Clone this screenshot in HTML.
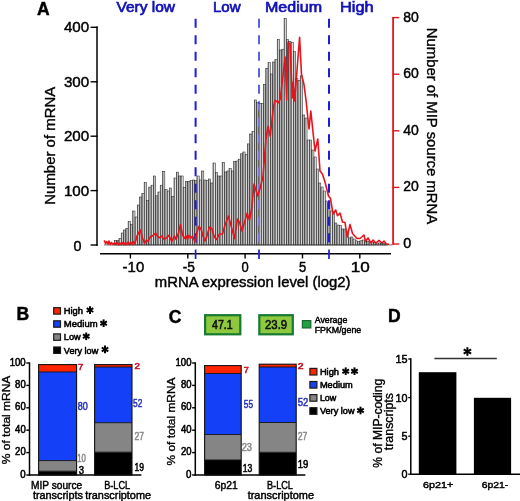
<!DOCTYPE html>
<html><head><meta charset="utf-8"><style>
html,body{margin:0;padding:0;background:#fff;width:520px;height:501px;overflow:hidden}
svg{display:block;will-change:transform}
text{font-family:"Liberation Sans", sans-serif}
</style></head><body>
<svg width="520" height="501" viewBox="0 0 520 501">
<rect x="0" y="0" width="520" height="501" fill="#fff"/>
<text x="37" y="15" font-size="17.5" fill="#000" stroke="#000" stroke-width="0.45" text-anchor="start" font-weight="bold" >A</text>
<text x="116.5" y="12.1" font-size="15" fill="#1212b8" stroke="#1212b8" stroke-width="0.7" text-anchor="start" font-weight="normal" textLength="58.5" lengthAdjust="spacingAndGlyphs" >Very low</text>
<text x="213" y="12.1" font-size="15" fill="#1212b8" stroke="#1212b8" stroke-width="0.7" text-anchor="start" font-weight="normal" textLength="27.6" lengthAdjust="spacingAndGlyphs" >Low</text>
<text x="265" y="12.1" font-size="15" fill="#1212b8" stroke="#1212b8" stroke-width="0.7" text-anchor="start" font-weight="normal" textLength="57" lengthAdjust="spacingAndGlyphs" >Medium</text>
<text x="340" y="12.1" font-size="15" fill="#1212b8" stroke="#1212b8" stroke-width="0.7" text-anchor="start" font-weight="normal" textLength="33.6" lengthAdjust="spacingAndGlyphs" >High</text>
<defs><clipPath id="cTop"><rect x="0" y="0" width="520" height="104"/></clipPath><clipPath id="cBot"><rect x="0" y="104" width="520" height="200"/></clipPath><linearGradient id="bg" x1="0" y1="0" x2="1" y2="0"><stop offset="0" stop-color="#6a6a6a"/><stop offset="0.35" stop-color="#a4a4a4"/><stop offset="0.72" stop-color="#ececec"/><stop offset="1" stop-color="#c4c4c4"/></linearGradient></defs>
<g>
<rect x="114.34" y="240.50" width="2.29" height="4.50" fill="url(#bg)" stroke="#2a2a2a" stroke-width="0.55" />
<rect x="116.64" y="240.50" width="2.29" height="4.50" fill="url(#bg)" stroke="#2a2a2a" stroke-width="0.55" />
<rect x="118.93" y="238.40" width="2.29" height="6.60" fill="url(#bg)" stroke="#2a2a2a" stroke-width="0.55" />
<rect x="121.22" y="233.00" width="2.29" height="12.00" fill="url(#bg)" stroke="#2a2a2a" stroke-width="0.55" />
<rect x="123.52" y="230.00" width="2.29" height="15.00" fill="url(#bg)" stroke="#2a2a2a" stroke-width="0.55" />
<rect x="125.81" y="228.30" width="2.29" height="16.70" fill="url(#bg)" stroke="#2a2a2a" stroke-width="0.55" />
<rect x="128.11" y="221.50" width="2.29" height="23.50" fill="url(#bg)" stroke="#2a2a2a" stroke-width="0.55" />
<rect x="130.40" y="224.50" width="2.29" height="20.50" fill="url(#bg)" stroke="#2a2a2a" stroke-width="0.55" />
<rect x="132.69" y="211.00" width="2.29" height="34.00" fill="url(#bg)" stroke="#2a2a2a" stroke-width="0.55" />
<rect x="134.99" y="217.00" width="2.29" height="28.00" fill="url(#bg)" stroke="#2a2a2a" stroke-width="0.55" />
<rect x="137.28" y="205.00" width="2.29" height="40.00" fill="url(#bg)" stroke="#2a2a2a" stroke-width="0.55" />
<rect x="139.58" y="197.00" width="2.29" height="48.00" fill="url(#bg)" stroke="#2a2a2a" stroke-width="0.55" />
<rect x="141.87" y="193.40" width="2.29" height="51.60" fill="url(#bg)" stroke="#2a2a2a" stroke-width="0.55" />
<rect x="144.16" y="182.30" width="2.29" height="62.70" fill="url(#bg)" stroke="#2a2a2a" stroke-width="0.55" />
<rect x="146.46" y="200.60" width="2.29" height="44.40" fill="url(#bg)" stroke="#2a2a2a" stroke-width="0.55" />
<rect x="148.75" y="187.10" width="2.29" height="57.90" fill="url(#bg)" stroke="#2a2a2a" stroke-width="0.55" />
<rect x="151.05" y="185.20" width="2.29" height="59.80" fill="url(#bg)" stroke="#2a2a2a" stroke-width="0.55" />
<rect x="153.34" y="176.00" width="2.29" height="69.00" fill="url(#bg)" stroke="#2a2a2a" stroke-width="0.55" />
<rect x="155.63" y="195.80" width="2.29" height="49.20" fill="url(#bg)" stroke="#2a2a2a" stroke-width="0.55" />
<rect x="157.93" y="192.00" width="2.29" height="53.00" fill="url(#bg)" stroke="#2a2a2a" stroke-width="0.55" />
<rect x="160.22" y="185.20" width="2.29" height="59.80" fill="url(#bg)" stroke="#2a2a2a" stroke-width="0.55" />
<rect x="162.52" y="171.30" width="2.29" height="73.70" fill="url(#bg)" stroke="#2a2a2a" stroke-width="0.55" />
<rect x="164.81" y="189.50" width="2.29" height="55.50" fill="url(#bg)" stroke="#2a2a2a" stroke-width="0.55" />
<rect x="167.10" y="191.00" width="2.29" height="54.00" fill="url(#bg)" stroke="#2a2a2a" stroke-width="0.55" />
<rect x="169.40" y="188.00" width="2.29" height="57.00" fill="url(#bg)" stroke="#2a2a2a" stroke-width="0.55" />
<rect x="171.69" y="196.30" width="2.29" height="48.70" fill="url(#bg)" stroke="#2a2a2a" stroke-width="0.55" />
<rect x="173.99" y="178.00" width="2.29" height="67.00" fill="url(#bg)" stroke="#2a2a2a" stroke-width="0.55" />
<rect x="176.28" y="172.20" width="2.29" height="72.80" fill="url(#bg)" stroke="#2a2a2a" stroke-width="0.55" />
<rect x="178.57" y="176.00" width="2.29" height="69.00" fill="url(#bg)" stroke="#2a2a2a" stroke-width="0.55" />
<rect x="180.87" y="176.00" width="2.29" height="69.00" fill="url(#bg)" stroke="#2a2a2a" stroke-width="0.55" />
<rect x="183.16" y="187.60" width="2.29" height="57.40" fill="url(#bg)" stroke="#2a2a2a" stroke-width="0.55" />
<rect x="185.46" y="181.50" width="2.29" height="63.50" fill="url(#bg)" stroke="#2a2a2a" stroke-width="0.55" />
<rect x="187.75" y="181.50" width="2.29" height="63.50" fill="url(#bg)" stroke="#2a2a2a" stroke-width="0.55" />
<rect x="190.04" y="180.70" width="2.29" height="64.30" fill="url(#bg)" stroke="#2a2a2a" stroke-width="0.55" />
<rect x="192.34" y="180.00" width="2.29" height="65.00" fill="url(#bg)" stroke="#2a2a2a" stroke-width="0.55" />
<rect x="194.63" y="180.70" width="2.29" height="64.30" fill="url(#bg)" stroke="#2a2a2a" stroke-width="0.55" />
<rect x="196.93" y="176.00" width="2.29" height="69.00" fill="url(#bg)" stroke="#2a2a2a" stroke-width="0.55" />
<rect x="199.22" y="180.00" width="2.29" height="65.00" fill="url(#bg)" stroke="#2a2a2a" stroke-width="0.55" />
<rect x="201.51" y="171.00" width="2.29" height="74.00" fill="url(#bg)" stroke="#2a2a2a" stroke-width="0.55" />
<rect x="203.81" y="180.00" width="2.29" height="65.00" fill="url(#bg)" stroke="#2a2a2a" stroke-width="0.55" />
<rect x="206.10" y="180.70" width="2.29" height="64.30" fill="url(#bg)" stroke="#2a2a2a" stroke-width="0.55" />
<rect x="208.40" y="179.00" width="2.29" height="66.00" fill="url(#bg)" stroke="#2a2a2a" stroke-width="0.55" />
<rect x="210.69" y="183.00" width="2.29" height="62.00" fill="url(#bg)" stroke="#2a2a2a" stroke-width="0.55" />
<rect x="212.98" y="163.00" width="2.29" height="82.00" fill="url(#bg)" stroke="#2a2a2a" stroke-width="0.55" />
<rect x="215.28" y="172.70" width="2.29" height="72.30" fill="url(#bg)" stroke="#2a2a2a" stroke-width="0.55" />
<rect x="217.57" y="176.00" width="2.29" height="69.00" fill="url(#bg)" stroke="#2a2a2a" stroke-width="0.55" />
<rect x="219.87" y="176.00" width="2.29" height="69.00" fill="url(#bg)" stroke="#2a2a2a" stroke-width="0.55" />
<rect x="222.16" y="162.30" width="2.29" height="82.70" fill="url(#bg)" stroke="#2a2a2a" stroke-width="0.55" />
<rect x="224.45" y="172.00" width="2.29" height="73.00" fill="url(#bg)" stroke="#2a2a2a" stroke-width="0.55" />
<rect x="226.75" y="171.00" width="2.29" height="74.00" fill="url(#bg)" stroke="#2a2a2a" stroke-width="0.55" />
<rect x="229.04" y="168.70" width="2.29" height="76.30" fill="url(#bg)" stroke="#2a2a2a" stroke-width="0.55" />
<rect x="231.34" y="171.00" width="2.29" height="74.00" fill="url(#bg)" stroke="#2a2a2a" stroke-width="0.55" />
<rect x="233.63" y="161.50" width="2.29" height="83.50" fill="url(#bg)" stroke="#2a2a2a" stroke-width="0.55" />
<rect x="235.92" y="161.00" width="2.29" height="84.00" fill="url(#bg)" stroke="#2a2a2a" stroke-width="0.55" />
<rect x="238.22" y="159.20" width="2.29" height="85.80" fill="url(#bg)" stroke="#2a2a2a" stroke-width="0.55" />
<rect x="240.51" y="153.80" width="2.29" height="91.20" fill="url(#bg)" stroke="#2a2a2a" stroke-width="0.55" />
<rect x="242.81" y="152.00" width="2.29" height="93.00" fill="url(#bg)" stroke="#2a2a2a" stroke-width="0.55" />
<rect x="245.10" y="154.70" width="2.29" height="90.30" fill="url(#bg)" stroke="#2a2a2a" stroke-width="0.55" />
<rect x="247.39" y="143.90" width="2.29" height="101.10" fill="url(#bg)" stroke="#2a2a2a" stroke-width="0.55" />
<rect x="249.69" y="134.00" width="2.29" height="111.00" fill="url(#bg)" stroke="#2a2a2a" stroke-width="0.55" />
<rect x="251.98" y="131.30" width="2.29" height="113.70" fill="url(#bg)" stroke="#2a2a2a" stroke-width="0.55" />
<rect x="254.28" y="100.00" width="2.29" height="145.00" fill="url(#bg)" stroke="#2a2a2a" stroke-width="0.55" />
<rect x="256.57" y="102.70" width="2.29" height="142.30" fill="url(#bg)" stroke="#2a2a2a" stroke-width="0.55" />
<rect x="258.86" y="103.50" width="2.29" height="141.50" fill="url(#bg)" stroke="#2a2a2a" stroke-width="0.55" />
<rect x="261.16" y="103.50" width="2.29" height="141.50" fill="url(#bg)" stroke="#2a2a2a" stroke-width="0.55" />
<rect x="263.45" y="84.30" width="2.29" height="160.70" fill="url(#bg)" stroke="#2a2a2a" stroke-width="0.55" />
<rect x="265.75" y="68.30" width="2.29" height="176.70" fill="url(#bg)" stroke="#2a2a2a" stroke-width="0.55" />
<rect x="268.04" y="62.70" width="2.29" height="182.30" fill="url(#bg)" stroke="#2a2a2a" stroke-width="0.55" />
<rect x="270.33" y="74.00" width="2.29" height="171.00" fill="url(#bg)" stroke="#2a2a2a" stroke-width="0.55" />
<rect x="272.63" y="62.00" width="2.29" height="183.00" fill="url(#bg)" stroke="#2a2a2a" stroke-width="0.55" />
<rect x="274.92" y="59.60" width="2.29" height="185.40" fill="url(#bg)" stroke="#2a2a2a" stroke-width="0.55" />
<rect x="277.22" y="39.30" width="2.29" height="205.70" fill="url(#bg)" stroke="#2a2a2a" stroke-width="0.55" />
<rect x="279.51" y="50.00" width="2.29" height="195.00" fill="url(#bg)" stroke="#2a2a2a" stroke-width="0.55" />
<rect x="281.80" y="49.20" width="2.29" height="195.80" fill="url(#bg)" stroke="#2a2a2a" stroke-width="0.55" />
<rect x="284.10" y="18.40" width="2.29" height="226.60" fill="url(#bg)" stroke="#2a2a2a" stroke-width="0.55" />
<rect x="286.39" y="39.60" width="2.29" height="205.40" fill="url(#bg)" stroke="#2a2a2a" stroke-width="0.55" />
<rect x="288.69" y="41.50" width="2.29" height="203.50" fill="url(#bg)" stroke="#2a2a2a" stroke-width="0.55" />
<rect x="290.98" y="42.60" width="2.29" height="202.40" fill="url(#bg)" stroke="#2a2a2a" stroke-width="0.55" />
<rect x="293.27" y="51.60" width="2.29" height="193.40" fill="url(#bg)" stroke="#2a2a2a" stroke-width="0.55" />
<rect x="295.57" y="78.50" width="2.29" height="166.50" fill="url(#bg)" stroke="#2a2a2a" stroke-width="0.55" />
<rect x="297.86" y="80.30" width="2.29" height="164.70" fill="url(#bg)" stroke="#2a2a2a" stroke-width="0.55" />
<rect x="300.16" y="75.80" width="2.29" height="169.20" fill="url(#bg)" stroke="#2a2a2a" stroke-width="0.55" />
<rect x="302.45" y="115.00" width="2.29" height="130.00" fill="url(#bg)" stroke="#2a2a2a" stroke-width="0.55" />
<rect x="304.74" y="118.00" width="2.29" height="127.00" fill="url(#bg)" stroke="#2a2a2a" stroke-width="0.55" />
<rect x="307.04" y="140.00" width="2.29" height="105.00" fill="url(#bg)" stroke="#2a2a2a" stroke-width="0.55" />
<rect x="309.33" y="140.00" width="2.29" height="105.00" fill="url(#bg)" stroke="#2a2a2a" stroke-width="0.55" />
<rect x="311.63" y="150.00" width="2.29" height="95.00" fill="url(#bg)" stroke="#2a2a2a" stroke-width="0.55" />
<rect x="313.92" y="157.00" width="2.29" height="88.00" fill="url(#bg)" stroke="#2a2a2a" stroke-width="0.55" />
<rect x="316.21" y="169.00" width="2.29" height="76.00" fill="url(#bg)" stroke="#2a2a2a" stroke-width="0.55" />
<rect x="318.51" y="183.00" width="2.29" height="62.00" fill="url(#bg)" stroke="#2a2a2a" stroke-width="0.55" />
<rect x="320.80" y="187.00" width="2.29" height="58.00" fill="url(#bg)" stroke="#2a2a2a" stroke-width="0.55" />
<rect x="323.10" y="191.00" width="2.29" height="54.00" fill="url(#bg)" stroke="#2a2a2a" stroke-width="0.55" />
<rect x="325.39" y="201.00" width="2.29" height="44.00" fill="url(#bg)" stroke="#2a2a2a" stroke-width="0.55" />
<rect x="327.68" y="203.00" width="2.29" height="42.00" fill="url(#bg)" stroke="#2a2a2a" stroke-width="0.55" />
<rect x="329.98" y="211.00" width="2.29" height="34.00" fill="url(#bg)" stroke="#2a2a2a" stroke-width="0.55" />
<rect x="332.27" y="212.00" width="2.29" height="33.00" fill="url(#bg)" stroke="#2a2a2a" stroke-width="0.55" />
<rect x="334.57" y="223.00" width="2.29" height="22.00" fill="url(#bg)" stroke="#2a2a2a" stroke-width="0.55" />
<rect x="336.86" y="225.00" width="2.29" height="20.00" fill="url(#bg)" stroke="#2a2a2a" stroke-width="0.55" />
<rect x="339.15" y="225.60" width="2.29" height="19.40" fill="url(#bg)" stroke="#2a2a2a" stroke-width="0.55" />
<rect x="341.45" y="229.00" width="2.29" height="16.00" fill="url(#bg)" stroke="#2a2a2a" stroke-width="0.55" />
<rect x="343.74" y="229.00" width="2.29" height="16.00" fill="url(#bg)" stroke="#2a2a2a" stroke-width="0.55" />
<rect x="346.04" y="231.00" width="2.29" height="14.00" fill="url(#bg)" stroke="#2a2a2a" stroke-width="0.55" />
<rect x="348.33" y="238.00" width="2.29" height="7.00" fill="url(#bg)" stroke="#2a2a2a" stroke-width="0.55" />
<rect x="350.62" y="237.00" width="2.29" height="8.00" fill="url(#bg)" stroke="#2a2a2a" stroke-width="0.55" />
<rect x="352.92" y="239.00" width="2.29" height="6.00" fill="url(#bg)" stroke="#2a2a2a" stroke-width="0.55" />
<rect x="355.21" y="240.80" width="2.29" height="4.20" fill="url(#bg)" stroke="#2a2a2a" stroke-width="0.55" />
<rect x="357.51" y="241.70" width="2.29" height="3.30" fill="url(#bg)" stroke="#2a2a2a" stroke-width="0.55" />
<rect x="359.80" y="240.80" width="2.29" height="4.20" fill="url(#bg)" stroke="#2a2a2a" stroke-width="0.55" />
<rect x="362.09" y="240.00" width="2.29" height="5.00" fill="url(#bg)" stroke="#2a2a2a" stroke-width="0.55" />
<rect x="364.39" y="241.00" width="2.29" height="4.00" fill="url(#bg)" stroke="#2a2a2a" stroke-width="0.55" />
<rect x="366.68" y="241.50" width="2.29" height="3.50" fill="url(#bg)" stroke="#2a2a2a" stroke-width="0.55" />
<rect x="368.98" y="242.00" width="2.29" height="3.00" fill="url(#bg)" stroke="#2a2a2a" stroke-width="0.55" />
<rect x="371.27" y="242.00" width="2.29" height="3.00" fill="url(#bg)" stroke="#2a2a2a" stroke-width="0.55" />
<rect x="373.56" y="242.50" width="2.29" height="2.50" fill="url(#bg)" stroke="#2a2a2a" stroke-width="0.55" />
<rect x="375.86" y="243.00" width="2.29" height="2.00" fill="url(#bg)" stroke="#2a2a2a" stroke-width="0.55" />
<rect x="378.15" y="243.00" width="2.29" height="2.00" fill="url(#bg)" stroke="#2a2a2a" stroke-width="0.55" />
<rect x="380.45" y="243.50" width="2.29" height="1.50" fill="url(#bg)" stroke="#2a2a2a" stroke-width="0.55" />
<rect x="382.74" y="243.50" width="2.29" height="1.50" fill="url(#bg)" stroke="#2a2a2a" stroke-width="0.55" />
<rect x="385.03" y="244.00" width="2.29" height="1.00" fill="url(#bg)" stroke="#2a2a2a" stroke-width="0.55" />
</g>
<line x1="104" y1="244.9" x2="392.5" y2="244.9" stroke="#3a3a3a" stroke-width="0.8" />
<line x1="195.6" y1="18.8" x2="195.6" y2="245" stroke="#1c1cdc" stroke-width="2.0" stroke-dasharray="9 7.5"/>
<line x1="329.0" y1="18.8" x2="329.0" y2="245" stroke="#1c1cdc" stroke-width="2.0" stroke-dasharray="9 7.5"/>
<line x1="259.0" y1="18.8" x2="259.0" y2="245" stroke="#4646d6" stroke-width="1.7" stroke-dasharray="9 7.5" clip-path="url(#cTop)"/>
<line x1="259.0" y1="18.8" x2="259.0" y2="245" stroke="#7a7ae6" stroke-width="1.8" stroke-dasharray="9 7.5" clip-path="url(#cBot)"/>
<polyline points="104.2,240.4 105.5,243.5 106.8,241.5 108,244.3 109,241 110.3,244.5 111.5,242.5 113,244.6 114.5,242.8 116,244.5 117.3,242 118.6,244.6 120,243 121.3,244.6 122.6,242.5 124,244.6 125.3,242.8 126.7,244.5 128,242 129.4,244.5 130.8,242.3 132.2,244.5 133.5,241.5 135,243.5 137,236 140.3,230 142.5,238 144.5,243.5 146.5,240 148,241.5 150.3,237 153,235.5 155.7,233 157.5,236.5 159.5,237.7 162,236 163.5,239 165.7,238.5 168.8,235.4 171.8,241.5 174.5,236 176,239.4 178.5,233 180.5,224.5 182.5,235 184.5,238.4 186,236 187.5,239.4 189,235.4 191,238 192.5,236 195,242 197,232 199,226.4 201,229 203,236 205,241 207,236 209.4,227 212,229 214.4,237 216.6,239.5 219.5,234 222.5,234 224.7,226 228.5,216 231.5,227.4 234.5,238.6 237.5,219 239.7,223 242,231 245,220.6 247.2,213 249.4,220 251.7,208.7 254,184 257.7,196 260,188.5 263,176.5 265.9,139.5 268,126.3 270.2,136.2 273.5,106.6 275.2,100.3 278.4,102.7 280.3,99 285.1,57 286.7,100 288,42.5 290,44 292.3,98 293.3,82 294.6,101 299.6,37.2 301.5,74.5 303.9,84 306,100 309,129 310.8,111 315,151 317.8,139 320,171 322.4,174 325,182 328.5,196 330.5,198.6 333,214 335.7,210 337.5,215.7 340,213 342.5,222 345,222.5 347.2,237 350,224.5 352.5,233.5 357,238.5 360,238.5 364,235 365.5,241.5 368,238 371,243 373,240 376,243 379,240.3 382,243 384,241 386.5,244 389,244.3" fill="none" stroke="#e8141c" stroke-width="1.6" stroke-linejoin="round"/>
<line x1="97" y1="26.6" x2="97" y2="245.7" stroke="#000" stroke-width="1.5" />
<line x1="90.6" y1="27.3" x2="97.7" y2="27.3" stroke="#000" stroke-width="1.4" />
<text x="89.2" y="32.3" font-size="15" fill="#000" stroke="#000" stroke-width="0.45" text-anchor="end" font-weight="normal" textLength="25.3" lengthAdjust="spacingAndGlyphs" >400</text>
<line x1="90.6" y1="81.8" x2="97.7" y2="81.8" stroke="#000" stroke-width="1.4" />
<text x="89.2" y="86.8" font-size="15" fill="#000" stroke="#000" stroke-width="0.45" text-anchor="end" font-weight="normal" textLength="25.3" lengthAdjust="spacingAndGlyphs" >300</text>
<line x1="90.6" y1="136.2" x2="97.7" y2="136.2" stroke="#000" stroke-width="1.4" />
<text x="89.2" y="141.2" font-size="15" fill="#000" stroke="#000" stroke-width="0.45" text-anchor="end" font-weight="normal" textLength="25.3" lengthAdjust="spacingAndGlyphs" >200</text>
<line x1="90.6" y1="190.6" x2="97.7" y2="190.6" stroke="#000" stroke-width="1.4" />
<text x="89.2" y="195.6" font-size="15" fill="#000" stroke="#000" stroke-width="0.45" text-anchor="end" font-weight="normal" textLength="25.3" lengthAdjust="spacingAndGlyphs" >100</text>
<line x1="90.6" y1="245" x2="97.7" y2="245" stroke="#000" stroke-width="1.4" />
<text x="73.5" y="250.6" font-size="15" fill="#000" stroke="#000" stroke-width="0.45" text-anchor="start" font-weight="normal" textLength="8.0" lengthAdjust="spacingAndGlyphs" >0</text>
<line x1="100" y1="253.7" x2="391" y2="253.7" stroke="#000" stroke-width="1.6" />
<line x1="130.4" y1="253" x2="130.4" y2="258.5" stroke="#000" stroke-width="1.4" />
<text x="133.4" y="272.0" font-size="15" fill="#000" stroke="#000" stroke-width="0.45" text-anchor="middle" font-weight="normal" textLength="21.6" lengthAdjust="spacingAndGlyphs" >-10</text>
<line x1="187.8" y1="253" x2="187.8" y2="258.5" stroke="#000" stroke-width="1.4" />
<text x="188.8" y="272.0" font-size="15" fill="#000" stroke="#000" stroke-width="0.45" text-anchor="middle" font-weight="normal" textLength="12.2" lengthAdjust="spacingAndGlyphs" >-5</text>
<line x1="245.1" y1="253" x2="245.1" y2="258.5" stroke="#000" stroke-width="1.4" />
<text x="245.1" y="272.0" font-size="15" fill="#000" stroke="#000" stroke-width="0.45" text-anchor="middle" font-weight="normal" textLength="7.2" lengthAdjust="spacingAndGlyphs" >0</text>
<line x1="302.5" y1="253" x2="302.5" y2="258.5" stroke="#000" stroke-width="1.4" />
<text x="302.5" y="272.0" font-size="15" fill="#000" stroke="#000" stroke-width="0.45" text-anchor="middle" font-weight="normal" textLength="7.2" lengthAdjust="spacingAndGlyphs" >5</text>
<line x1="359.8" y1="253" x2="359.8" y2="258.5" stroke="#000" stroke-width="1.4" />
<text x="360.3" y="272.0" font-size="15" fill="#000" stroke="#000" stroke-width="0.45" text-anchor="middle" font-weight="normal" textLength="19" lengthAdjust="spacingAndGlyphs" >10</text>
<text x="154.8" y="287.3" font-size="15" fill="#000" stroke="#000" stroke-width="0.45" text-anchor="start" font-weight="normal" textLength="195.7" lengthAdjust="spacingAndGlyphs" >mRNA expression level (log2)</text>
<line x1="195.6" y1="249.5" x2="195.6" y2="259" stroke="#1c1cdc" stroke-width="1.7" />
<line x1="259.0" y1="249.5" x2="259.0" y2="259" stroke="#1c1cdc" stroke-width="1.7" />
<line x1="329.0" y1="249.5" x2="329.0" y2="259" stroke="#1c1cdc" stroke-width="1.7" />
<text stroke="#000" stroke-width="0.35" transform="translate(55.0,204.7) rotate(-90)" font-size="14.6" textLength="117.9" lengthAdjust="spacingAndGlyphs">Number of mRNA</text>
<line x1="393.1" y1="16.9" x2="393.1" y2="244.7" stroke="#e8141c" stroke-width="1.8" />
<line x1="392.6" y1="17.6" x2="399.3" y2="17.6" stroke="#e8141c" stroke-width="1.4" />
<text x="403.2" y="21.5" font-size="14.8" fill="#000" stroke="#000" stroke-width="0.45" text-anchor="start" font-weight="normal" textLength="15.6" lengthAdjust="spacingAndGlyphs" >80</text>
<line x1="392.6" y1="74.2" x2="399.3" y2="74.2" stroke="#e8141c" stroke-width="1.4" />
<text x="403.2" y="78.10000000000001" font-size="14.8" fill="#000" stroke="#000" stroke-width="0.45" text-anchor="start" font-weight="normal" textLength="15.6" lengthAdjust="spacingAndGlyphs" >60</text>
<line x1="392.6" y1="130.8" x2="399.3" y2="130.8" stroke="#e8141c" stroke-width="1.4" />
<text x="403.2" y="134.70000000000002" font-size="14.8" fill="#000" stroke="#000" stroke-width="0.45" text-anchor="start" font-weight="normal" textLength="15.6" lengthAdjust="spacingAndGlyphs" >40</text>
<line x1="392.6" y1="187.4" x2="399.3" y2="187.4" stroke="#e8141c" stroke-width="1.4" />
<text x="403.2" y="191.3" font-size="14.8" fill="#000" stroke="#000" stroke-width="0.45" text-anchor="start" font-weight="normal" textLength="15.6" lengthAdjust="spacingAndGlyphs" >20</text>
<line x1="392.6" y1="244.0" x2="399.3" y2="244.0" stroke="#e8141c" stroke-width="1.4" />
<text x="403.2" y="247.9" font-size="14.8" fill="#000" stroke="#000" stroke-width="0.45" text-anchor="start" font-weight="normal" textLength="8" lengthAdjust="spacingAndGlyphs" >0</text>
<text stroke="#000" stroke-width="0.35" transform="translate(427.0,27.7) rotate(90)" font-size="15" textLength="196.6" lengthAdjust="spacingAndGlyphs">Number of MIP source mRNA</text>
<text x="16.4" y="320.4" font-size="17.5" fill="#000" stroke="#000" stroke-width="0.45" text-anchor="start" font-weight="bold" >B</text>
<rect x="53.70" y="307.70" width="6.80" height="6.40" fill="#ff2400" stroke="#1a1a1a" stroke-width="1.2" />
<text x="63.8" y="314.2" font-size="9.3" fill="#000" stroke="#000" stroke-width="0.55" text-anchor="start" font-weight="normal" textLength="19.2" lengthAdjust="spacingAndGlyphs" >High</text>
<line x1="90.00" y1="306.30" x2="90.00" y2="313.90" stroke="#000" stroke-width="2.0" stroke-linecap="butt"/>
<line x1="86.71" y1="308.20" x2="93.29" y2="312.00" stroke="#000" stroke-width="2.0" stroke-linecap="butt"/>
<line x1="93.29" y1="308.20" x2="86.71" y2="312.00" stroke="#000" stroke-width="2.0" stroke-linecap="butt"/>
<rect x="53.70" y="320.80" width="6.80" height="6.40" fill="#1440f8" stroke="#1a1a1a" stroke-width="1.2" />
<text x="63.8" y="327.3" font-size="9.3" fill="#000" stroke="#000" stroke-width="0.55" text-anchor="start" font-weight="normal" textLength="33.8" lengthAdjust="spacingAndGlyphs" >Medium</text>
<line x1="103.60" y1="319.40" x2="103.60" y2="327.00" stroke="#000" stroke-width="2.0" stroke-linecap="butt"/>
<line x1="100.31" y1="321.30" x2="106.89" y2="325.10" stroke="#000" stroke-width="2.0" stroke-linecap="butt"/>
<line x1="106.89" y1="321.30" x2="100.31" y2="325.10" stroke="#000" stroke-width="2.0" stroke-linecap="butt"/>
<rect x="53.70" y="333.90" width="6.80" height="6.40" fill="#858585" stroke="#1a1a1a" stroke-width="1.2" />
<text x="63.8" y="340.4" font-size="9.3" fill="#000" stroke="#000" stroke-width="0.55" text-anchor="start" font-weight="normal" textLength="16.9" lengthAdjust="spacingAndGlyphs" >Low</text>
<line x1="86.20" y1="332.50" x2="86.20" y2="340.10" stroke="#000" stroke-width="2.0" stroke-linecap="butt"/>
<line x1="82.91" y1="334.40" x2="89.49" y2="338.20" stroke="#000" stroke-width="2.0" stroke-linecap="butt"/>
<line x1="89.49" y1="334.40" x2="82.91" y2="338.20" stroke="#000" stroke-width="2.0" stroke-linecap="butt"/>
<rect x="53.70" y="347.00" width="6.80" height="6.40" fill="#000000" stroke="#1a1a1a" stroke-width="1.2" />
<text x="63.8" y="353.5" font-size="9.3" fill="#000" stroke="#000" stroke-width="0.55" text-anchor="start" font-weight="normal" textLength="34.5" lengthAdjust="spacingAndGlyphs" >Very low</text>
<line x1="105.00" y1="345.60" x2="105.00" y2="353.20" stroke="#000" stroke-width="2.0" stroke-linecap="butt"/>
<line x1="101.71" y1="347.50" x2="108.29" y2="351.30" stroke="#000" stroke-width="2.0" stroke-linecap="butt"/>
<line x1="108.29" y1="347.50" x2="101.71" y2="351.30" stroke="#000" stroke-width="2.0" stroke-linecap="butt"/>
<line x1="29.5" y1="475.7" x2="29.5" y2="362.3" stroke="#000" stroke-width="1.5" />
<line x1="28.8" y1="475" x2="141.4" y2="475" stroke="#000" stroke-width="1.5" />
<line x1="26.3" y1="363.0" x2="29.5" y2="363.0" stroke="#000" stroke-width="1.4" />
<text x="25.7" y="365.6" font-size="10.3" fill="#000" stroke="#000" stroke-width="0.55" text-anchor="end" font-weight="normal" textLength="16.0" lengthAdjust="spacingAndGlyphs" >100</text>
<line x1="26.3" y1="385.4" x2="29.5" y2="385.4" stroke="#000" stroke-width="1.4" />
<text x="25.7" y="388.0" font-size="10.3" fill="#000" stroke="#000" stroke-width="0.55" text-anchor="end" font-weight="normal" textLength="10.6" lengthAdjust="spacingAndGlyphs" >80</text>
<line x1="26.3" y1="407.8" x2="29.5" y2="407.8" stroke="#000" stroke-width="1.4" />
<text x="25.7" y="410.40000000000003" font-size="10.3" fill="#000" stroke="#000" stroke-width="0.55" text-anchor="end" font-weight="normal" textLength="10.6" lengthAdjust="spacingAndGlyphs" >60</text>
<line x1="26.3" y1="430.2" x2="29.5" y2="430.2" stroke="#000" stroke-width="1.4" />
<text x="25.7" y="432.8" font-size="10.3" fill="#000" stroke="#000" stroke-width="0.55" text-anchor="end" font-weight="normal" textLength="10.6" lengthAdjust="spacingAndGlyphs" >40</text>
<line x1="26.3" y1="452.6" x2="29.5" y2="452.6" stroke="#000" stroke-width="1.4" />
<text x="25.7" y="455.20000000000005" font-size="10.3" fill="#000" stroke="#000" stroke-width="0.55" text-anchor="end" font-weight="normal" textLength="10.6" lengthAdjust="spacingAndGlyphs" >20</text>
<line x1="26.3" y1="475.0" x2="29.5" y2="475.0" stroke="#000" stroke-width="1.4" />
<text x="25.7" y="477.6" font-size="10.3" fill="#000" stroke="#000" stroke-width="0.55" text-anchor="end" font-weight="normal" textLength="5.4" lengthAdjust="spacingAndGlyphs" >0</text>
<text stroke="#000" stroke-width="0.35" transform="translate(10.3,464.2) rotate(-90)" font-size="11.6" textLength="88.5" lengthAdjust="spacingAndGlyphs">% of total mRNA</text>
<rect x="38.60" y="471.20" width="38.00" height="3.80" fill="#000000" stroke="none" stroke-width="0" />
<rect x="38.60" y="460.60" width="38.00" height="10.60" fill="#858585" stroke="none" stroke-width="0" />
<rect x="38.60" y="371.90" width="38.00" height="88.70" fill="#1440f8" stroke="none" stroke-width="0" />
<rect x="38.60" y="364.60" width="38.00" height="7.30" fill="#ff2400" stroke="none" stroke-width="0" />
<line x1="38.6" y1="471.2" x2="76.6" y2="471.2" stroke="#111" stroke-width="0.9" />
<line x1="38.6" y1="460.6" x2="76.6" y2="460.6" stroke="#111" stroke-width="0.9" />
<line x1="38.6" y1="371.9" x2="76.6" y2="371.9" stroke="#111" stroke-width="0.9" />
<rect x="38.60" y="364.60" width="38.00" height="110.40" fill="none" stroke="#111" stroke-width="1.1" />
<rect x="94.60" y="452.20" width="37.40" height="22.80" fill="#000000" stroke="none" stroke-width="0" />
<rect x="94.60" y="422.70" width="37.40" height="29.50" fill="#858585" stroke="none" stroke-width="0" />
<rect x="94.60" y="367.00" width="37.40" height="55.70" fill="#1440f8" stroke="none" stroke-width="0" />
<rect x="94.60" y="364.60" width="37.40" height="2.40" fill="#ff2400" stroke="none" stroke-width="0" />
<line x1="94.6" y1="452.2" x2="132.0" y2="452.2" stroke="#111" stroke-width="0.9" />
<line x1="94.6" y1="422.7" x2="132.0" y2="422.7" stroke="#111" stroke-width="0.9" />
<line x1="94.6" y1="367.0" x2="132.0" y2="367.0" stroke="#111" stroke-width="0.9" />
<rect x="94.60" y="364.60" width="37.40" height="110.40" fill="none" stroke="#111" stroke-width="1.1" />
<text x="78.0" y="369.6" font-size="9.4" fill="#c81e2e" stroke="#c81e2e" stroke-width="0.7" text-anchor="start" font-weight="normal" textLength="5.2" lengthAdjust="spacingAndGlyphs" >7</text>
<text x="77.7" y="409.6" font-size="10.6" fill="#2a35c0" stroke="#2a35c0" stroke-width="0.55" text-anchor="start" font-weight="normal" textLength="10" lengthAdjust="spacingAndGlyphs" >80</text>
<text x="77.2" y="462.4" font-size="10.6" fill="#8a8a8a" stroke="#8a8a8a" stroke-width="0.55" text-anchor="start" font-weight="normal" textLength="8.6" lengthAdjust="spacingAndGlyphs" >10</text>
<text x="78.7" y="473.6" font-size="10.6" fill="#000" stroke="#000" stroke-width="0.55" text-anchor="start" font-weight="normal" textLength="5.3" lengthAdjust="spacingAndGlyphs" >3</text>
<text x="134.6" y="368.8" font-size="9.6" fill="#c81e2e" stroke="#c81e2e" stroke-width="0.7" text-anchor="start" font-weight="normal" textLength="5.4" lengthAdjust="spacingAndGlyphs" >2</text>
<text x="133.0" y="407.3" font-size="10.6" fill="#2a35c0" stroke="#2a35c0" stroke-width="0.55" text-anchor="start" font-weight="normal" textLength="9.3" lengthAdjust="spacingAndGlyphs" >52</text>
<text x="134.5" y="439.9" font-size="10.6" fill="#8a8a8a" stroke="#8a8a8a" stroke-width="0.55" text-anchor="start" font-weight="normal" textLength="9.5" lengthAdjust="spacingAndGlyphs" >27</text>
<text x="134.5" y="471.0" font-size="10.6" fill="#000" stroke="#000" stroke-width="0.55" text-anchor="start" font-weight="normal" textLength="9.5" lengthAdjust="spacingAndGlyphs" >19</text>
<text x="31" y="488.9" font-size="11" fill="#000" stroke="#000" stroke-width="0.45" text-anchor="start" font-weight="normal" textLength="51.2" lengthAdjust="spacingAndGlyphs" >MIP source</text>
<text x="32.9" y="498.9" font-size="11" fill="#000" stroke="#000" stroke-width="0.45" text-anchor="start" font-weight="normal" textLength="50" lengthAdjust="spacingAndGlyphs" >transcripts</text>
<text x="104.2" y="488.9" font-size="11" fill="#000" stroke="#000" stroke-width="0.45" text-anchor="start" font-weight="normal" textLength="26" lengthAdjust="spacingAndGlyphs" >B-LCL</text>
<text x="85.2" y="498.9" font-size="11" fill="#000" stroke="#000" stroke-width="0.45" text-anchor="start" font-weight="normal" textLength="65.8" lengthAdjust="spacingAndGlyphs" >transcriptome</text>
<text x="168.7" y="322.5" font-size="17.5" fill="#000" stroke="#000" stroke-width="0.45" text-anchor="start" font-weight="bold" >C</text>
<rect x="205.10" y="315.20" width="35.20" height="19.10" fill="#8dc83f" stroke="#167a32" stroke-width="2.2" />
<text x="212" y="328.5" font-size="12" fill="#111" stroke="#111" stroke-width="0.6" text-anchor="start" font-weight="normal" textLength="20.7" lengthAdjust="spacingAndGlyphs" >47.1</text>
<rect x="259.30" y="315.20" width="33.50" height="19.10" fill="#8dc83f" stroke="#167a32" stroke-width="2.2" />
<text x="265" y="328.5" font-size="12" fill="#111" stroke="#111" stroke-width="0.6" text-anchor="start" font-weight="normal" textLength="22.1" lengthAdjust="spacingAndGlyphs" >23.9</text>
<rect x="302.30" y="320.60" width="8.60" height="7.40" fill="#20a040" stroke="#0c5a24" stroke-width="1.0" />
<text x="314.7" y="322.8" font-size="8.6" fill="#000" stroke="#000" stroke-width="0.45" text-anchor="start" font-weight="normal" textLength="32.6" lengthAdjust="spacingAndGlyphs" >Average</text>
<text x="314.7" y="333.3" font-size="8.6" fill="#000" stroke="#000" stroke-width="0.45" text-anchor="start" font-weight="normal" textLength="46.5" lengthAdjust="spacingAndGlyphs" >FPKM/gene</text>
<line x1="195.3" y1="475.7" x2="195.3" y2="362.3" stroke="#000" stroke-width="1.5" />
<line x1="194.60000000000002" y1="475" x2="305.4" y2="475" stroke="#000" stroke-width="1.5" />
<line x1="192.10000000000002" y1="363.0" x2="195.3" y2="363.0" stroke="#000" stroke-width="1.4" />
<text x="191.5" y="365.6" font-size="10.3" fill="#000" stroke="#000" stroke-width="0.55" text-anchor="end" font-weight="normal" textLength="16.0" lengthAdjust="spacingAndGlyphs" >100</text>
<line x1="192.10000000000002" y1="385.4" x2="195.3" y2="385.4" stroke="#000" stroke-width="1.4" />
<text x="191.5" y="388.0" font-size="10.3" fill="#000" stroke="#000" stroke-width="0.55" text-anchor="end" font-weight="normal" textLength="10.6" lengthAdjust="spacingAndGlyphs" >80</text>
<line x1="192.10000000000002" y1="407.8" x2="195.3" y2="407.8" stroke="#000" stroke-width="1.4" />
<text x="191.5" y="410.40000000000003" font-size="10.3" fill="#000" stroke="#000" stroke-width="0.55" text-anchor="end" font-weight="normal" textLength="10.6" lengthAdjust="spacingAndGlyphs" >60</text>
<line x1="192.10000000000002" y1="430.2" x2="195.3" y2="430.2" stroke="#000" stroke-width="1.4" />
<text x="191.5" y="432.8" font-size="10.3" fill="#000" stroke="#000" stroke-width="0.55" text-anchor="end" font-weight="normal" textLength="10.6" lengthAdjust="spacingAndGlyphs" >40</text>
<line x1="192.10000000000002" y1="452.6" x2="195.3" y2="452.6" stroke="#000" stroke-width="1.4" />
<text x="191.5" y="455.20000000000005" font-size="10.3" fill="#000" stroke="#000" stroke-width="0.55" text-anchor="end" font-weight="normal" textLength="10.6" lengthAdjust="spacingAndGlyphs" >20</text>
<line x1="192.10000000000002" y1="475.0" x2="195.3" y2="475.0" stroke="#000" stroke-width="1.4" />
<text x="191.5" y="477.6" font-size="10.3" fill="#000" stroke="#000" stroke-width="0.55" text-anchor="end" font-weight="normal" textLength="5.4" lengthAdjust="spacingAndGlyphs" >0</text>
<text stroke="#000" stroke-width="0.35" transform="translate(175.3,465.5) rotate(-90)" font-size="11.6" textLength="88.0" lengthAdjust="spacingAndGlyphs">% of total mRNA</text>
<rect x="204.60" y="460.00" width="36.60" height="15.00" fill="#000000" stroke="none" stroke-width="0" />
<rect x="204.60" y="434.50" width="36.60" height="25.50" fill="#858585" stroke="none" stroke-width="0" />
<rect x="204.60" y="373.50" width="36.60" height="61.00" fill="#1440f8" stroke="none" stroke-width="0" />
<rect x="204.60" y="365.60" width="36.60" height="7.90" fill="#ff2400" stroke="none" stroke-width="0" />
<line x1="204.6" y1="460.0" x2="241.2" y2="460.0" stroke="#111" stroke-width="0.9" />
<line x1="204.6" y1="434.5" x2="241.2" y2="434.5" stroke="#111" stroke-width="0.9" />
<line x1="204.6" y1="373.5" x2="241.2" y2="373.5" stroke="#111" stroke-width="0.9" />
<rect x="204.60" y="365.60" width="36.60" height="109.40" fill="none" stroke="#111" stroke-width="1.1" />
<rect x="259.20" y="452.30" width="37.00" height="22.70" fill="#000000" stroke="none" stroke-width="0" />
<rect x="259.20" y="422.50" width="37.00" height="29.80" fill="#858585" stroke="none" stroke-width="0" />
<rect x="259.20" y="367.00" width="37.00" height="55.50" fill="#1440f8" stroke="none" stroke-width="0" />
<rect x="259.20" y="364.20" width="37.00" height="2.80" fill="#ff2400" stroke="none" stroke-width="0" />
<line x1="259.2" y1="452.3" x2="296.2" y2="452.3" stroke="#111" stroke-width="0.9" />
<line x1="259.2" y1="422.5" x2="296.2" y2="422.5" stroke="#111" stroke-width="0.9" />
<line x1="259.2" y1="367.0" x2="296.2" y2="367.0" stroke="#111" stroke-width="0.9" />
<rect x="259.20" y="364.20" width="37.00" height="110.80" fill="none" stroke="#111" stroke-width="1.1" />
<text x="243.8" y="372.8" font-size="9.4" fill="#c81e2e" stroke="#c81e2e" stroke-width="0.7" text-anchor="start" font-weight="normal" textLength="5.0" lengthAdjust="spacingAndGlyphs" >7</text>
<text x="243.8" y="408.0" font-size="10.6" fill="#2a35c0" stroke="#2a35c0" stroke-width="0.55" text-anchor="start" font-weight="normal" textLength="9.2" lengthAdjust="spacingAndGlyphs" >55</text>
<text x="241.7" y="450.8" font-size="10.6" fill="#8a8a8a" stroke="#8a8a8a" stroke-width="0.55" text-anchor="start" font-weight="normal" textLength="10.3" lengthAdjust="spacingAndGlyphs" >23</text>
<text x="242.7" y="472.3" font-size="10.6" fill="#000" stroke="#000" stroke-width="0.55" text-anchor="start" font-weight="normal" textLength="9.6" lengthAdjust="spacingAndGlyphs" >13</text>
<text x="297.7" y="369.2" font-size="9.6" fill="#c81e2e" stroke="#c81e2e" stroke-width="0.7" text-anchor="start" font-weight="normal" textLength="5.8" lengthAdjust="spacingAndGlyphs" >2</text>
<text x="297.7" y="405.8" font-size="10.6" fill="#2a35c0" stroke="#2a35c0" stroke-width="0.55" text-anchor="start" font-weight="normal" textLength="10.6" lengthAdjust="spacingAndGlyphs" >52</text>
<text x="297.7" y="440.2" font-size="10.6" fill="#8a8a8a" stroke="#8a8a8a" stroke-width="0.55" text-anchor="start" font-weight="normal" textLength="9.6" lengthAdjust="spacingAndGlyphs" >27</text>
<text x="297.7" y="468.1" font-size="10.6" fill="#000" stroke="#000" stroke-width="0.55" text-anchor="start" font-weight="normal" textLength="10.6" lengthAdjust="spacingAndGlyphs" >19</text>
<text x="214.8" y="489.2" font-size="11" fill="#000" stroke="#000" stroke-width="0.45" text-anchor="start" font-weight="normal" textLength="23.1" lengthAdjust="spacingAndGlyphs" >6p21</text>
<text x="267.0" y="489.2" font-size="11" fill="#000" stroke="#000" stroke-width="0.45" text-anchor="start" font-weight="normal" textLength="25.9" lengthAdjust="spacingAndGlyphs" >B-LCL</text>
<text x="247.7" y="498.8" font-size="11" fill="#000" stroke="#000" stroke-width="0.45" text-anchor="start" font-weight="normal" textLength="66.3" lengthAdjust="spacingAndGlyphs" >transcriptome</text>
<rect x="309.90" y="368.40" width="7.00" height="6.60" fill="#ff2400" stroke="#1a1a1a" stroke-width="1.2" />
<text x="319.9" y="375.0" font-size="9.3" fill="#000" stroke="#000" stroke-width="0.55" text-anchor="start" font-weight="normal" textLength="19.1" lengthAdjust="spacingAndGlyphs" >High</text>
<line x1="345.70" y1="367.40" x2="345.70" y2="375.00" stroke="#000" stroke-width="2.0" stroke-linecap="butt"/>
<line x1="342.41" y1="369.30" x2="348.99" y2="373.10" stroke="#000" stroke-width="2.0" stroke-linecap="butt"/>
<line x1="348.99" y1="369.30" x2="342.41" y2="373.10" stroke="#000" stroke-width="2.0" stroke-linecap="butt"/>
<line x1="354.50" y1="367.40" x2="354.50" y2="375.00" stroke="#000" stroke-width="2.0" stroke-linecap="butt"/>
<line x1="351.21" y1="369.30" x2="357.79" y2="373.10" stroke="#000" stroke-width="2.0" stroke-linecap="butt"/>
<line x1="357.79" y1="369.30" x2="351.21" y2="373.10" stroke="#000" stroke-width="2.0" stroke-linecap="butt"/>
<rect x="309.90" y="381.50" width="7.00" height="6.60" fill="#1440f8" stroke="#1a1a1a" stroke-width="1.2" />
<text x="319.9" y="388.1" font-size="9.3" fill="#000" stroke="#000" stroke-width="0.55" text-anchor="start" font-weight="normal" textLength="32.9" lengthAdjust="spacingAndGlyphs" >Medium</text>
<rect x="309.90" y="394.60" width="7.00" height="6.60" fill="#858585" stroke="#1a1a1a" stroke-width="1.2" />
<text x="319.9" y="401.2" font-size="9.3" fill="#000" stroke="#000" stroke-width="0.55" text-anchor="start" font-weight="normal" textLength="16.4" lengthAdjust="spacingAndGlyphs" >Low</text>
<rect x="309.90" y="407.70" width="7.00" height="6.60" fill="#000000" stroke="#1a1a1a" stroke-width="1.2" />
<text x="319.9" y="414.3" font-size="9.3" fill="#000" stroke="#000" stroke-width="0.55" text-anchor="start" font-weight="normal" textLength="34.6" lengthAdjust="spacingAndGlyphs" >Very low</text>
<line x1="360.50" y1="406.70" x2="360.50" y2="414.30" stroke="#000" stroke-width="2.0" stroke-linecap="butt"/>
<line x1="357.21" y1="408.60" x2="363.79" y2="412.40" stroke="#000" stroke-width="2.0" stroke-linecap="butt"/>
<line x1="363.79" y1="408.60" x2="357.21" y2="412.40" stroke="#000" stroke-width="2.0" stroke-linecap="butt"/>
<text x="388" y="321.6" font-size="17.5" fill="#000" stroke="#000" stroke-width="0.45" text-anchor="start" font-weight="bold" >D</text>
<line x1="410.8" y1="358.3" x2="410.8" y2="474.8" stroke="#000" stroke-width="1.5" />
<line x1="410.1" y1="474.2" x2="520" y2="474.2" stroke="#000" stroke-width="1.5" />
<line x1="408.2" y1="359" x2="410.8" y2="359" stroke="#000" stroke-width="1.3" />
<text x="407.4" y="362.9" font-size="10.8" fill="#000" stroke="#000" stroke-width="0.5" text-anchor="end" font-weight="normal" >15</text>
<line x1="408.2" y1="397.6" x2="410.8" y2="397.6" stroke="#000" stroke-width="1.3" />
<text x="407.4" y="401.5" font-size="10.8" fill="#000" stroke="#000" stroke-width="0.5" text-anchor="end" font-weight="normal" >10</text>
<line x1="408.2" y1="436.2" x2="410.8" y2="436.2" stroke="#000" stroke-width="1.3" />
<text x="407.4" y="440.09999999999997" font-size="10.8" fill="#000" stroke="#000" stroke-width="0.5" text-anchor="end" font-weight="normal" >5</text>
<line x1="408.2" y1="474.2" x2="410.8" y2="474.2" stroke="#000" stroke-width="1.3" />
<text x="407.4" y="478.09999999999997" font-size="10.8" fill="#000" stroke="#000" stroke-width="0.5" text-anchor="end" font-weight="normal" >0</text>
<rect x="418.80" y="372.20" width="37.60" height="102.00" fill="#000" stroke="none" stroke-width="0" />
<rect x="473.90" y="397.80" width="37.20" height="76.40" fill="#000" stroke="none" stroke-width="0" />
<line x1="434.4" y1="358.5" x2="496.8" y2="358.5" stroke="#333" stroke-width="1.5" />
<line x1="467.40" y1="347.20" x2="467.40" y2="355.80" stroke="#000" stroke-width="2.0" stroke-linecap="butt"/>
<line x1="463.68" y1="349.35" x2="471.12" y2="353.65" stroke="#000" stroke-width="2.0" stroke-linecap="butt"/>
<line x1="471.12" y1="349.35" x2="463.68" y2="353.65" stroke="#000" stroke-width="2.0" stroke-linecap="butt"/>
<text x="423.1" y="488.3" font-size="9.9" fill="#000" stroke="#000" stroke-width="0.45" text-anchor="start" font-weight="normal" textLength="30.3" lengthAdjust="spacingAndGlyphs" >6p21+</text>
<text x="481.7" y="488.3" font-size="9.9" fill="#000" stroke="#000" stroke-width="0.45" text-anchor="start" font-weight="normal" textLength="26.6" lengthAdjust="spacingAndGlyphs" >6p21-</text>
<text stroke="#000" stroke-width="0.35" transform="translate(382.3,467.7) rotate(-90)" font-size="12" textLength="89" lengthAdjust="spacingAndGlyphs">% of MIP-coding</text>
<text stroke="#000" stroke-width="0.35" transform="translate(392.8,450.2) rotate(-90)" font-size="12" textLength="57.2" lengthAdjust="spacingAndGlyphs">transcripts</text>
</svg>
</body></html>
